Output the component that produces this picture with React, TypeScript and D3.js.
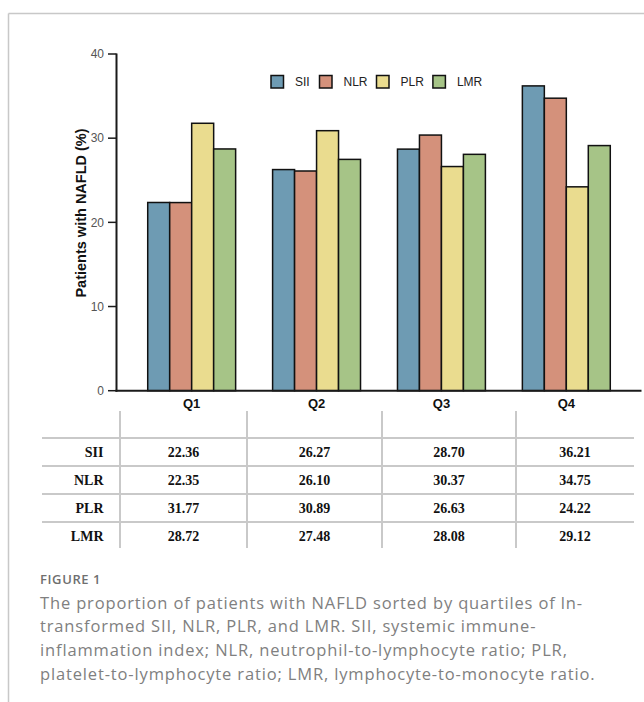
import React from "react";
import * as d3 from "d3";

const quartiles = ["Q1", "Q2", "Q3", "Q4"];
const seriesNames = ["SII", "NLR", "PLR", "LMR"];
const siiValues = [22.36, 26.27, 28.7, 36.21];
const nlrValues = [22.35, 26.1, 30.37, 34.75];
const plrValues = [31.77, 30.89, 26.63, 24.22];
const lmrValues = [28.72, 27.48, 28.08, 29.12];
const yTicks = [0, 10, 20, 30, 40];
const seriesColors = ["#6e9bb3", "#d4917b", "#eadc8f", "#a6c487"];
const captionLines = [
  "The proportion of patients with NAFLD sorted by quartiles of ln-",
  "transformed SII, NLR, PLR, and LMR. SII, systemic immune-",
  "inflammation index; NLR, neutrophil-to-lymphocyte ratio; PLR,",
  "platelet-to-lymphocyte ratio; LMR, lymphocyte-to-monocyte ratio.",
];

const allValues = [siiValues, nlrValues, plrValues, lmrValues];

export default function App() {
  const W = 644;
  const H = 702;
  const axisX = 116.5;
  const axisRight = 641.5;
  const y0 = 390.7;
  const yTop = 54;

  const y = d3.scaleLinear().domain([0, 40]).range([y0, yTop]);
  const x = d3
    .scaleBand<string>()
    .domain(quartiles)
    .range([axisX, axisRight])
    .paddingInner(0.296)
    .paddingOuter(0.25);
  const xs = d3.scaleBand<string>().domain(seriesNames).range([0, x.bandwidth()]);
  const color = d3.scaleOrdinal<string, string>().domain(seriesNames).range(seriesColors);

  const sansFont = "Liberation Sans, Arial, sans-serif";
  const serifFont = "Liberation Serif, Times New Roman, serif";
  const capFont = "Open Sans, Lato, sans-serif";

  // legend layout
  const legendX0 = 271;
  const legendY = 75.5;
  const sq = 12.5;
  const textW = [13.5, 22, 21.4, 24.5];
  const legendItems: { name: string; x: number }[] = [];
  let lx = legendX0;
  seriesNames.forEach((n, i) => {
    legendItems.push({ name: n, x: lx });
    lx += sq + 11.5 + textW[i] + 11;
  });

  // table layout
  const colX = [120, 247, 382, 516, 634];
  const rowLines = [438, 466, 494, 522];
  const rowCenters = [452, 480, 508, 536];

  return (
    <svg
      width={W}
      height={H}
      style={{ position: "absolute", left: 0, top: 0, background: "#fff" }}
    >
      {/* frame */}
      <line x1={8.5} y1={13.5} x2={W} y2={13.5} stroke="#c8c8c8" strokeWidth={1.5} />
      <line x1={8.5} y1={13.5} x2={8.5} y2={H} stroke="#c8c8c8" strokeWidth={1.5} />

      {/* bars */}
      {quartiles.map((q, qi) => (
        <g key={q} transform={`translate(${x(q)},0)`}>
          {seriesNames.map((s, si) => {
            const v = allValues[si][qi];
            return (
              <rect
                key={s}
                x={xs(s)}
                y={y(v)}
                width={xs.bandwidth()}
                height={y0 - y(v)}
                fill={color(s)}
                stroke="#111"
                strokeWidth={1.5}
              />
            );
          })}
        </g>
      ))}

      {/* y axis */}
      <line x1={axisX} y1={yTop - 0.5} x2={axisX} y2={y0 + 1} stroke="#1a1a1a" strokeWidth={2} />
      {yTicks.map((t) => (
        <g key={t} transform={`translate(0,${y(t)})`}>
          <line x1={108} x2={axisX} y1={0} y2={0} stroke="#1a1a1a" strokeWidth={1.5} />
          <text
            x={104}
            y={0}
            dy="0.35em"
            textAnchor="end"
            fontFamily={sansFont}
            fontSize={12}
            fill="#555"
          >
            {t}
          </text>
        </g>
      ))}
      <text
        transform={`translate(86,213) rotate(-90)`}
        textAnchor="middle"
        fontFamily={sansFont}
        fontSize={14.5}
        fontWeight="bold"
        fill="#111"
      >
        Patients with NAFLD (%)
      </text>

      {/* x axis */}
      <line x1={axisX - 1} y1={y0} x2={axisRight} y2={y0} stroke="#1a1a1a" strokeWidth={2} />
      {quartiles.map((q) => (
        <text
          key={q}
          x={(x(q) as number) + x.bandwidth() / 2}
          y={408}
          textAnchor="middle"
          fontFamily={sansFont}
          fontSize={13}
          fontWeight="bold"
          fill="#111"
        >
          {q}
        </text>
      ))}

      {/* legend */}
      {legendItems.map((it) => (
        <g key={it.name}>
          <rect
            x={it.x}
            y={legendY}
            width={sq}
            height={sq}
            fill={color(it.name)}
            stroke="#111"
            strokeWidth={1.5}
          />
          <text
            x={it.x + sq + 11.5}
            y={legendY + sq / 2}
            dy="0.36em"
            fontFamily={sansFont}
            fontSize={12}
            fill="#222"
          >
            {it.name}
          </text>
        </g>
      ))}

      {/* table */}
      {colX.slice(0, 4).map((cx, i) => (
        <line key={i} x1={cx} x2={cx} y1={411} y2={548} stroke="#c9c9c9" strokeWidth={2} />
      ))}
      {rowLines.map((ry, i) => (
        <line key={i} x1={42} x2={634} y1={ry} y2={ry} stroke="#c9c9c9" strokeWidth={2} />
      ))}
      {seriesNames.map((s, si) => (
        <g key={s}>
          <text
            x={103.5}
            y={rowCenters[si]}
            dy="0.35em"
            textAnchor="end"
            fontFamily={serifFont}
            fontSize={14}
            fontWeight="bold"
            fill="#111"
          >
            {s}
          </text>
          {quartiles.map((q, qi) => (
            <text
              key={q}
              x={(colX[qi] + colX[qi + 1]) / 2}
              y={rowCenters[si]}
              dy="0.35em"
              textAnchor="middle"
              fontFamily={serifFont}
              fontSize={14}
              fontWeight="bold"
              fill="#111"
            >
              {d3.format(".2f")(allValues[si][qi])}
            </text>
          ))}
        </g>
      ))}

      {/* caption */}
      <text
        x={40}
        y={583.5}
        fontFamily={capFont}
        fontSize={13}
        fontWeight={600}
        letterSpacing={0.6}
        fill="#6f6f6f"
      >
        FIGURE 1
      </text>
      {captionLines.map((l, i) => (
        <text
          key={i}
          x={40}
          y={608.5 + i * 23.7}
          fontFamily={capFont}
          fontSize={16.5}
          letterSpacing={0.85}
          fill="#808080"
        >
          {l}
        </text>
      ))}
    </svg>
  );
}
